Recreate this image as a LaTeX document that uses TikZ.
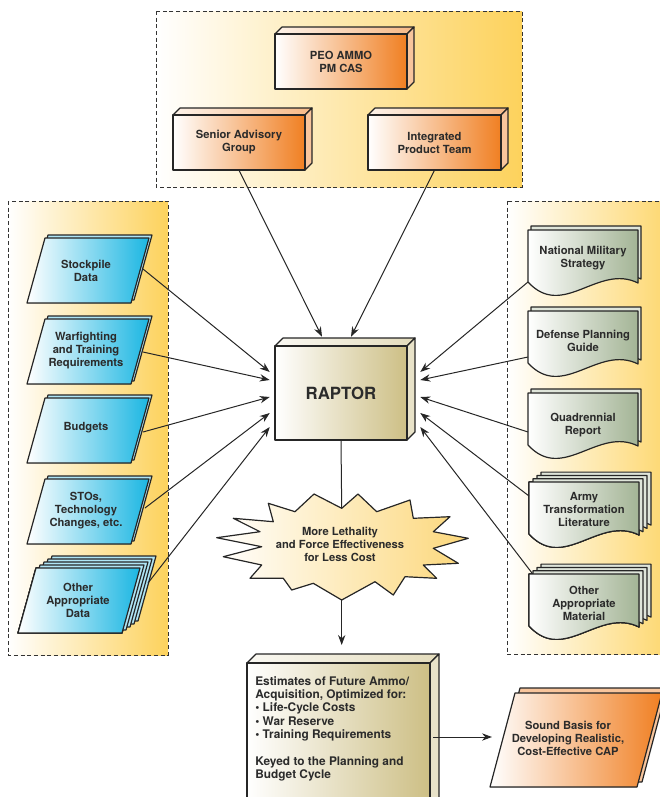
\documentclass[tikz,border=0pt]{standalone}
\usepackage{fontspec}
\setmainfont{TeX Gyre Heros}
\usetikzlibrary{arrows.meta}

\definecolor{txt}{HTML}{2B2B2B}
\definecolor{grp}{HTML}{FDD25C}
\definecolor{orng}{HTML}{F07F22}
\definecolor{aqua}{HTML}{1BB6E2}
\definecolor{sage}{HTML}{A3B495}
\definecolor{khaki}{HTML}{CDBF85}
\definecolor{burst}{HTML}{FCD77A}

\tikzset{
  group/.style={draw=black!80, dash pattern=on 3pt off 2pt, line width=0.75pt, left color=white, right color=grp},
  face/.style={draw=black!85, line width=0.9pt, line join=round},
  lbl/.style={text=txt, font=\bfseries\fontsize{8.4}{9.75}\selectfont, align=center, inner sep=0pt},
  arr/.style={draw=black!85, line width=0.75pt, -{Stealth[length=7.5pt,width=5.5pt]}},
  link/.style={draw=black!85, line width=0.75pt},
}

% 3-D box: left, top, right, bottom, colour, depth
\newcommand\slabbox[6]{%
  \filldraw[face, left color=#5!10, right color=#5!55] (#1,#2) -- ++(#6,-#6) -- ({#3+#6},{#2-#6}) -- (#3,#2) -- cycle;
  \filldraw[face, fill=#5!45] (#3,#2) -- ({#3+#6},{#2-#6}) -- ({#3+#6},{#4-#6}) -- (#3,#4) -- cycle;
  \filldraw[face, left color=white, right color=#5] (#1,#2) rectangle (#3,#4);}
% data card: bottom left x, y, options
\newcommand\datacard[3]{%
  \filldraw[#3] (#1,#2) -- ++(18,-65) -- ++(104,0) -- ++(-18,65) -- cycle;}
% document sheet: x, top, options
\newcommand\docsheet[3]{%
  \filldraw[#3] (#1,{#2+52}) -- (#1,#2) -- ({#1+110},#2) -- ({#1+110},{#2+53})
    .. controls ({#1+70},{#2+33}) and ({#1+35},{#2+90}) .. (#1,{#2+52}) -- cycle;}

\begin{document}
\begin{tikzpicture}[x=0.75pt,y=-0.75pt]
\useasboundingbox (0,0) rectangle (660,797);
\clip (0,0) rectangle (660,797);

% groups
\path[group] (156,11) rectangle (522,187);
\path[group] (8,201) rectangle (168,655);
\path[group] (507,201) rectangle (690,654);

% management
\slabbox{275}{34}{407}{89}{orng}{7}
\slabbox{173}{115}{305}{170}{orng}{7}
\slabbox{368}{115}{501}{170}{orng}{7}
\node[lbl, minimum width=99pt, minimum height=41.25pt] (peo) at (341,61.5) {PEO AMMO\\PM CAS};
\node[lbl, minimum width=99pt, minimum height=41.25pt] (sag) at (239,142.5) {Senior Advisory\\Group};
\node[lbl, minimum width=99.75pt, minimum height=41.25pt] (ipt) at (434.5,142.5) {Integrated\\Product Team};

% raptor
\slabbox{275}{346}{407}{440}{khaki}{8}
\node[lbl, font=\bfseries\fontsize{12.6}{15}\selectfont, minimum width=99pt, minimum height=70.5pt] (raptor) at (341,393) {RAPTOR};

% data inputs
\datacard{30}{300}{face, fill=aqua!35}
\datacard{27}{303}{face, left color=white, right color=aqua}
\node[lbl] (stock) at (86,271) {Stockpile\\Data};
\datacard{30}{381}{face, fill=aqua!35}
\datacard{27}{384}{face, left color=white, right color=aqua}
\node[lbl] (warf) at (86,351) {Warfighting\\and Training\\Requirements};
\datacard{30}{460}{face, fill=aqua!35}
\datacard{27}{463}{face, left color=white, right color=aqua}
\node[lbl] (budg) at (86,428) {Budgets};
\datacard{30}{541}{face, fill=aqua!35}
\datacard{27}{544}{face, left color=white, right color=aqua}
\node[lbl] (sto) at (86,511) {STOs,\\Technology\\Changes, etc.};
\foreach \k in {4,3,2,1}
  \datacard{18}{633}{face, fill=aqua!35, shift={(4*\k,-3*\k)}}
\datacard{18}{633}{face, left color=white, right color=aqua}
\node[lbl] (othd) at (78,600) {Other\\Appropriate\\Data};

% guidance documents
\docsheet{531}{226}{face, fill=sage!35}
\docsheet{528}{230}{face, left color=white, right color=sage}
\node[lbl] (nms) at (583,258) {National Military\\Strategy};
\docsheet{531}{307}{face, fill=sage!35}
\docsheet{528}{311}{face, left color=white, right color=sage}
\node[lbl] (dpg) at (583,341) {Defense Planning\\Guide};
\docsheet{531}{389}{face, fill=sage!35}
\docsheet{528}{393}{face, left color=white, right color=sage}
\node[lbl] (qdr) at (583,425) {Quadrennial\\Report};
\foreach \k in {3,2,1}
  \docsheet{529}{482}{face, fill=sage!35, shift={(4*\k,-3.3*\k)}}
\docsheet{529}{482}{face, left color=white, right color=sage}
\node[lbl] (atl) at (584,509) {Army\\Transformation\\Literature};
\foreach \k in {3,2,1}
  \docsheet{529}{574}{face, fill=sage!35, shift={(4*\k,-3.3*\k)}}
\docsheet{529}{574}{face, left color=white, right color=sage}
\node[lbl] (oam) at (584,603) {Other\\Appropriate\\Material};

% result
\filldraw[face, left color=white, right color=burst] (216.7,537.7) -- (260,531.7) -- (233.3,518.3) -- (273.3,521.7)
  -- (268.3,503.3) -- (295,511.7) -- (314,494) -- (341.7,508.3) -- (358,494) -- (376.7,511.7) -- (410,500)
  -- (413.3,518.3) -- (450,516.7) -- (433.3,531.7) -- (468.3,538.3) -- (433.3,548.3) -- (458.3,563.3)
  -- (423.3,565) -- (436.7,578.3) -- (405,576.7) -- (393.3,595) -- (375,581.7) -- (341.7,600)
  -- (313.3,583.3) -- (291.7,590) -- (283.3,578.3) -- (250,578.3) -- (261.7,565) -- (223.3,556.7)
  -- (261.7,546.7) -- cycle;
\node[lbl] (gain) at (340,544) {More Lethality\\and Force Effectiveness\\for Less Cost};
\coordinate (gain-n) at (341.7,508.3);
\coordinate (gain-s) at (341.7,600);

% estimates
\slabbox{247}{663}{430}{830}{khaki}{9}
\node[lbl, font=\bfseries\fontsize{8.9}{10}\selectfont, align=left, anchor=north west] (est) at (255,676) {Estimates of Future Ammo/\\Acquisition, Optimized for:\\\textbullet\ Life-Cycle Costs\\\textbullet\ War Reserve\\\textbullet\ Training Requirements\\[10pt]Keyed to the Planning and\\Budget Cycle};
\coordinate (est-n) at (341.7,645);
\coordinate (est-e) at (433,737);

% outcome
\filldraw[face, fill=orng!45, shift={(5,-5)}] (490,787) -- (515,693) -- (662,693) -- (637,787) -- cycle;
\filldraw[face, left color=white, right color=orng] (490,787) -- (515,693) -- (662,693) -- (637,787) -- cycle;
\node[lbl] (sound) at (568,738) {Sound Basis for\\Developing Realistic,\\Cost-Effective CAP};
\coordinate (sound-w) at (492,737);

% connectors
\coordinate (stock-e) at (143,269);
\coordinate (warf-e) at (143,352);
\coordinate (budg-e) at (143,432);
\coordinate (sto-e) at (145,508);
\coordinate (othd-e) at (148,583);
\coordinate (nms-w) at (528,282);
\coordinate (dpg-w) at (528,357);
\coordinate (qdr-w) at (528,432);
\coordinate (atl-w) at (529,496);
\coordinate (oam-w) at (532,573);

\draw[arr] (sag.south) -- ([xshift=-14.25pt,yshift=6.75pt]raptor.north);
\draw[arr] (ipt.south) -- ([xshift=7.5pt,yshift=6.75pt]raptor.north);
\draw[arr] (stock-e) -- ([xshift=-3.75pt,yshift=15.75pt]raptor.west);
\draw[arr] (warf-e) -- ([xshift=-3.75pt,yshift=9.75pt]raptor.west);
\draw[arr] (budg-e) -- ([xshift=-3.75pt,yshift=-3pt]raptor.west);
\draw[arr] (sto-e) -- ([xshift=-3.75pt,yshift=-15pt]raptor.west);
\draw[arr] (othd-e) -- ([xshift=-3.75pt,yshift=-25.5pt]raptor.west);
\draw[arr] (nms-w) -- ([xshift=9.75pt,yshift=15.75pt]raptor.east);
\draw[arr] (dpg-w) -- ([xshift=9.75pt,yshift=9.75pt]raptor.east);
\draw[arr] (qdr-w) -- ([xshift=9.75pt,yshift=-3pt]raptor.east);
\draw[arr] (atl-w) -- ([xshift=9.75pt,yshift=-15pt]raptor.east);
\draw[arr] (oam-w) -- ([xshift=9.75pt,yshift=-25.5pt]raptor.east);
\draw[link] (raptor.south) -- (gain-n);
\draw[arr] (gain-s) -- (est-n);
\draw[arr] (est-e) -- (sound-w);
\end{tikzpicture}
\end{document}
